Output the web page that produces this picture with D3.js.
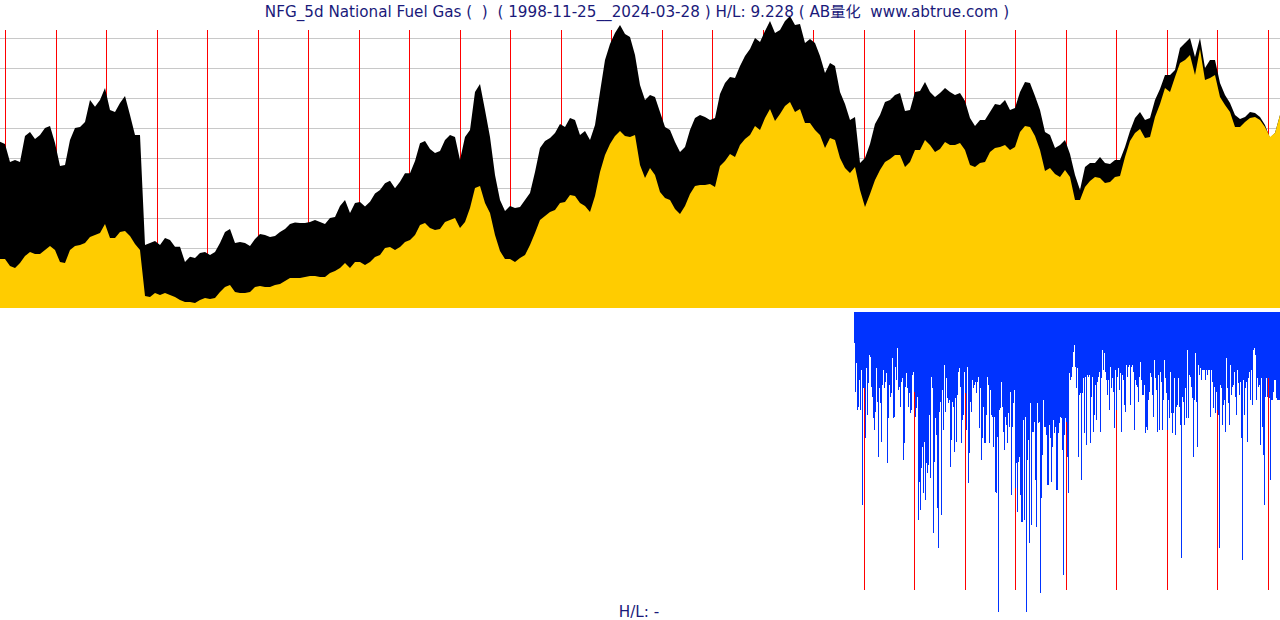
<!DOCTYPE html>
<html><head><meta charset="utf-8">
<script src="https://cdn.jsdelivr.net/npm/d3@7"></script>
<style>body{margin:0;background:#fff}svg{display:block}text{white-space:pre}</style>
</head><body>
<svg id="c" width="1280" height="620"></svg>
<script>
// ---- data ----
const startYear = 1998.90;   // 1998-11-25
const endYear = 2024.24;     // 2024-03-28
const yearLines = d3.range(1999, 2025);
const volumeYearLines = d3.range(2016, 2025);
const gridValues = [10, 20, 30, 40, 50, 60, 70, 80, 90];
const titleText = "NFG_5d National Fuel Gas (  )  ( 1998-11-25__2024-03-28 ) H/L: 9.228 ( AB量化  www.abtrue.com )";
const bottomText = "H/L: -";

// upper (black) series, regular samples over the period
const upperSeries = [
55.4,54.7,48.7,49.3,48.7,57.3,58.7,56.3,57.7,60,60.7,55,47.3,47.7,56,60,60.3,62,69.3,67.1,
69.3,73.3,66,65.3,68.3,70.7,64.3,57.7,57.7,21,21.7,22.3,21,23.3,22.7,20.4,20.4,15.3,17.1,16.7,
18.3,18.7,17.7,18.7,21.7,25.3,26.3,21.7,22,21.7,20.7,23,24.7,24.3,23.7,24,25.3,26.3,28,28.5,
28.3,28.3,28.7,29.3,28.7,28,30,30.3,34,36,31.7,35,35.3,33.8,35.4,38.2,39.3,41.6,42.4,39.9,
42.1,44.9,44.9,49,54.9,55.7,53,51.7,52.3,56,57.7,57,49.3,57,59.3,72,74.7,66,57,44.3,
36,32.3,34,33.3,33.7,36,38.3,45.3,53.3,55.7,56.7,58.3,61.3,60.3,63.3,62.7,57.7,59,56,61,
72,82.7,88,91.7,94.3,91.3,90.3,84.3,74.3,69.3,71,70.3,65.3,60.3,59.3,55.3,52,53.7,59.3,63.3,
64.3,63.7,62.7,63.3,71.3,75,77,76.7,80.7,84,86.3,90,88.7,92.3,95.7,91.7,92.7,95.7,97.3,94.3,
94.7,88.3,89.7,88.3,84,78.3,81.7,80.7,72,68,62.7,63.7,48.3,50,54.7,61.3,64.3,68.7,69.3,71,
71.7,65.7,66,72,72.3,75.3,72,70.3,71.7,73.3,72,71,71.7,69,63.3,60.7,62.7,62.7,65.3,68,
67.7,69.3,66,66.7,72,75.3,75,70.7,66,58.7,57.7,53.3,54.3,56,51.3,44.3,39.3,47,48.3,48.3,
50.3,48.3,48,49.3,49.3,53.7,59,63.3,65.3,62.7,63.3,69.3,73,77.7,77.7,79.3,86.7,88.3,90,83.7,
90,80,82.7,82.7,75,71,68.3,64.3,63,63.7,65.3,65,63.7,61,56.7,58.3,64.3
];

// lower (yellow) series, same samples
const lowerSeries = [
16.3,16.3,14,13.3,15,17.3,18.7,18,18,19.3,20.7,19.3,15.3,15,19.3,20.7,21,21.7,23.7,24.3,
25,28,23.3,23.3,25.3,25.7,24,21.3,19.3,4,3.7,5,4.3,5,4.3,3.7,2.7,2,2,1.7,
2.7,3.3,3,3.3,5.3,7,7.7,5.3,5,5,5.3,7,7.3,7,7,7.7,8,9,10,10,
10,10.3,10.7,10.7,10.3,10.3,11.7,12.3,13.3,15,13.3,15.3,15.3,14.3,15.3,17,17.7,20,20.3,19.3,
20.3,22,22.7,24.3,27.7,28.3,26.7,26,26.3,28.7,29.3,30,26.7,28.7,33.3,40,40.7,35,31.7,24.3,
19,16.3,16.3,15.3,16.7,17.7,21,25,29.3,30.7,32,32.7,35,35.3,37.7,37.3,35,34,32,37.3,
45.3,51,54.7,57.3,59,57.3,57,57.7,47.7,43.3,46.7,44.3,38.7,36.7,36,33,31.3,34,38,40.7,
41,41,41.3,40.3,47.3,49,51.3,50.3,54.3,56.3,57.7,60.7,59.3,63.3,66.3,62.3,64.7,67.3,68.7,65.3,
66.3,61.7,61.7,59.3,57.7,53.3,56.7,56,50,46.7,45,47,39.3,33.7,38,42.7,46,48.7,49.7,51,
51,47,48.7,52.7,52.7,56,54.3,52,53,55.3,54.3,54.3,55,52.7,47.7,47,48.3,48.7,52,53.3,
53.7,54.3,52.7,53.7,58.7,60.7,60.3,57.3,52.7,45.7,46.7,44.7,43.7,46,43.7,36,36,40.3,42.3,43.7,
43.3,41.7,42,43.7,44,50.3,55.7,58.3,59.7,56.7,57,63.7,68,73.3,72,77,81.7,82.7,84.3,77.7,
86.3,76,76.7,77.7,70.3,67.7,65.3,60.3,60.3,62,63.3,63.7,62.7,60.3,57,58.3,64.3
];

// lower panel (blue) weekly bars, depth values
const blueStartYear = 2015.81;
const blueSeries = [
31,80,51,98,95,68,98,58,193,76,76,126,56,103,71,43,45,75,85,106,
118,100,56,90,145,76,91,130,73,58,76,70,61,151,106,73,85,81,46,106,
105,55,68,36,78,75,95,70,66,148,131,75,61,76,95,81,101,98,63,60,
80,105,96,85,208,170,198,156,135,181,130,188,151,161,153,103,166,65,76,221,
150,106,123,196,236,100,90,203,78,118,53,100,66,86,91,88,155,128,90,95,
140,86,130,83,60,56,75,131,108,103,60,81,118,55,171,141,90,100,68,76,
73,70,81,70,65,116,76,148,126,95,131,131,103,65,73,131,78,103,105,135,
105,180,181,125,300,98,96,70,95,120,138,105,113,131,101,115,80,183,115,91,
78,176,151,200,150,145,183,210,108,208,105,300,148,128,231,91,213,120,120,110,
168,215,91,111,110,281,186,143,88,115,115,123,173,173,113,126,170,135,108,121,
115,178,178,121,111,105,106,138,263,123,106,110,145,181,61,68,65,55,40,33,
55,76,56,145,83,81,168,81,66,121,65,133,63,65,63,131,85,65,120,103,
73,108,70,65,60,120,66,38,58,41,60,68,83,68,98,55,76,66,80,116,
58,98,65,56,78,61,120,63,68,93,100,53,65,55,53,93,55,53,60,118,
68,73,75,90,65,50,68,83,83,73,121,115,118,88,80,61,65,83,105,48,
66,78,120,63,118,60,70,118,88,48,66,81,118,88,106,60,101,121,101,66,
123,95,93,66,95,113,246,85,90,113,76,106,38,106,63,65,75,86,145,88,
41,90,135,53,63,56,68,58,58,58,68,58,63,58,58,105,58,70,96,75,
101,80,98,103,236,73,76,113,93,88,120,46,76,91,113,53,83,75,73,60,
85,103,58,71,83,70,126,248,68,103,76,70,130,66,60,88,58,93,38,36,
43,88,66,75,73,133,66,115,143,193,85,66,85,66,86,168,88,88,80,68,
68,86,88,88,88
];

// ---- layout ----
const W = 1280;
const topPanel = {top: 30, bottom: 308};
const botPanel = {top: 312, bottom: 612, lineBottom: 590};

const svg = d3.select("#c");

const x = d3.scaleLinear().domain([startYear, endYear]).range([0, W]);
const y = d3.scaleLinear().domain([0, 100]).range([topPanel.bottom, topPanel.bottom - 300]);
const sampleTime = i => startYear + i * (endYear - startYear) / (upperSeries.length - 1);

// grid lines
svg.append("g").selectAll("line").data(gridValues).join("line")
  .attr("x1", 0).attr("x2", W)
  .attr("y1", d => Math.round(y(d)) + 0.5).attr("y2", d => Math.round(y(d)) + 0.5)
  .attr("stroke", "#c8c8c8").attr("stroke-width", 1);

// year lines (top)
svg.append("g").selectAll("line").data(yearLines).join("line")
  .attr("x1", d => Math.round(x(d)) + 0.5).attr("x2", d => Math.round(x(d)) + 0.5)
  .attr("y1", topPanel.top).attr("y2", topPanel.bottom)
  .attr("stroke", "#ff0000").attr("stroke-width", 1);

// black area
const areaGen = d3.area()
  .x((d, i) => x(sampleTime(i)))
  .y0(y(0)).y1(d => y(d));
svg.append("path").datum(upperSeries).attr("d", areaGen).attr("fill", "#000000");

// yellow area
svg.append("path").datum(lowerSeries).attr("d", areaGen).attr("fill", "#ffcc00");

// bottom panel
const xb = d3.scaleBand().domain(d3.range(blueSeries.length))
  .range([x(blueStartYear), W]).padding(0);
const yb = d3.scaleLinear().domain([0, 300]).range([botPanel.top, botPanel.bottom]);

svg.append("g").selectAll("line").data(volumeYearLines).join("line")
  .attr("x1", d => Math.round(x(d)) + 0.5).attr("x2", d => Math.round(x(d)) + 0.5)
  .attr("y1", botPanel.top).attr("y2", botPanel.lineBottom)
  .attr("stroke", "#ff0000").attr("stroke-width", 1);

svg.append("g").attr("shape-rendering", "crispEdges")
  .selectAll("rect").data(blueSeries).join("rect")
  .attr("x", (d, i) => xb(i))
  .attr("width", Math.max(1, xb.bandwidth()))
  .attr("y", yb(0))
  .attr("height", d => yb(d) - yb(0))
  .attr("fill", "#0033ff");

// texts
svg.append("text").attr("x", 637).attr("y", 17).attr("text-anchor", "middle")
  .attr("font-family", "'DejaVu Sans', 'Noto Sans CJK SC', sans-serif").attr("font-size", 15.2)
  .attr("fill", "#1a1a7a").text(titleText);
svg.append("text").attr("x", 639).attr("y", 617).attr("text-anchor", "middle")
  .attr("font-family", "'DejaVu Sans', sans-serif").attr("font-size", 15.2)
  .attr("fill", "#1a1a7a").text(bottomText);
</script>
</body></html>
